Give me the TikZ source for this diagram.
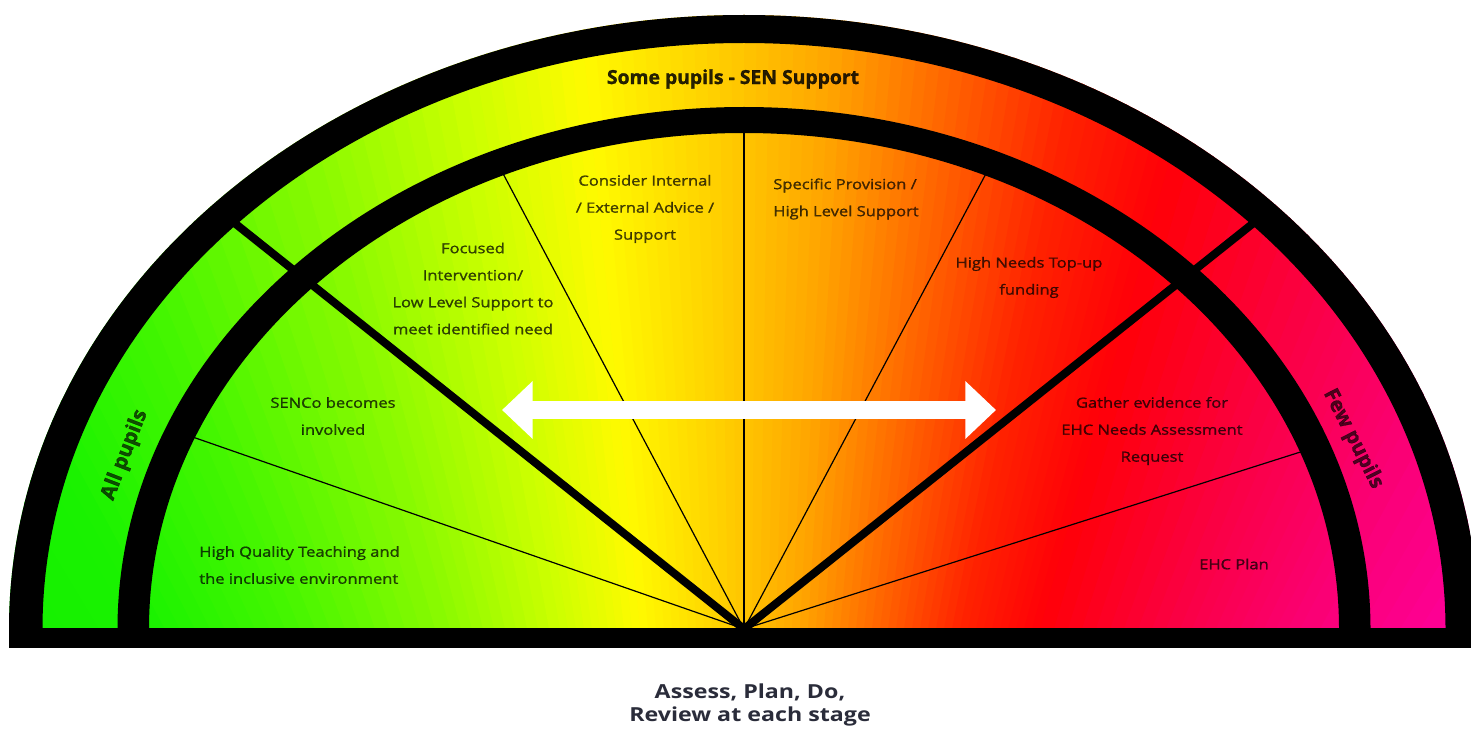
\documentclass[tikz,border=0pt]{standalone}
\usepackage{fontspec}
\setmainfont{Open Sans}
\newfontfamily\lblfont{Open Sans}[FakeBold=1.1]
\newfontfamily\heavyfont{Open Sans}[BoldFeatures={FakeBold=1.3}]
\usetikzlibrary{arrows.meta}
\definecolor{g0}{RGB}{20,240,0}
\definecolor{g1}{RGB}{25,242,0}
\definecolor{g2}{RGB}{70,246,0}
\definecolor{g3}{RGB}{140,250,0}
\definecolor{g4}{RGB}{205,255,0}
\definecolor{g5}{RGB}{255,250,0}
\definecolor{g6}{RGB}{255,210,0}
\definecolor{g7}{RGB}{255,165,0}
\definecolor{g8}{RGB}{255,100,0}
\definecolor{g9}{RGB}{255,35,0}
\definecolor{g10}{RGB}{255,0,8}
\definecolor{g11}{RGB}{250,0,70}
\definecolor{g12}{RGB}{250,0,115}
\definecolor{g13}{RGB}{255,0,165}
\definecolor{navytext}{RGB}{42,44,58}
\begin{document}
\begin{tikzpicture}[x=0.75pt,y=-0.75pt,
  thinray/.style={line width=0.9pt, black},
  thickray/.style={line width=6pt, black},
  lbl/.style={font=\lblfont\fontsize{10.5}{20.25}\selectfont, text=black, text opacity=0.7, align=center, xscale=1.18, inner sep=0pt},
  lbll/.style={lbl, align=left},
  band/.style={font=\heavyfont\bfseries\fontsize{15.5}{18}\selectfont, text=black, text opacity=0.68, inner sep=0pt},
  title/.style={font=\heavyfont\bfseries\fontsize{14.5}{18}\selectfont, text=black, text opacity=0.85, xscale=1.0, inner sep=0pt},
  foot/.style={font=\bfseries\fontsize{14.5}{17.25}\selectfont, text=navytext, align=center, xscale=1.2, inner sep=0pt}]
\useasboundingbox (0,0) rectangle (1471,731);
\fill[white] (0,0) rectangle (1471,731);
\coordinate (O) at (744,629);
\coordinate (F) at (744,1700);
% gradient fill of the half ellipse
\begin{scope}
  \clip (0,0) rectangle (1471,629);
  \clip (O) ellipse [x radius=735, y radius=614];
  \foreach \ua/\ub/\ca/\cb in {-20/150/g0/g1, 150/300/g1/g2, 300/450/g2/g3, 450/560/g3/g4, 560/640/g4/g5, 640/720/g5/g6, 720/800/g6/g7, 800/880/g7/g8, 880/960/g8/g9, 960/1040/g9/g10, 1040/1180/g10/g11, 1180/1300/g11/g12, 1300/1500/g12/g13}{
    \foreach \j in {0,...,9}{
      \pgfmathsetmacro\p{(\j+0.5)*10}
      \pgfmathsetmacro\xa{744+(\ua+(\ub-\ua)*\j/10-744)*1.5873}
      \pgfmathsetmacro\xb{744+(\ua+(\ub-\ua)*(\j+1)/10+2-744)*1.5873}
      \fill[fill={\cb!\p!\ca}] (F) -- (\xa,0) -- (\xb,0) -- cycle;
    }
  }
  % thin rays inside inner region
  \begin{scope}
    \clip (O) ellipse [x radius=612, y radius=510];
    \coordinate (t1) at (-330,255);
    \coordinate (t2) at (272,-263);
    \coordinate (t3) at (744,-100);
    \coordinate (t4) at (1218,-263);
    \coordinate (t5) at (1838,281);
    \foreach \t in {t1,t2,t3,t4,t5} \draw[thinray] (O) -- (\t);
  \end{scope}
  % thick rays through both bands
  \begin{scope}
    \clip (O) ellipse [x radius=718, y radius=600];
    \coordinate (k1) at (-260,-171);
    \coordinate (k2) at (1748,-171);
    \draw[thickray] (O) -- (k1);
    \draw[thickray] (O) -- (k2);
  \end{scope}
\end{scope}
% black rings
\begin{scope}
  \clip (0,0) rectangle (1471,629.5);
  \fill[black, even odd rule] (O) ellipse [x radius=735, y radius=614] (O) ellipse [x radius=701.5, y radius=586];
  \fill[black, even odd rule] (O) ellipse [x radius=626.5, y radius=522] (O) ellipse [x radius=595, y radius=496];
\end{scope}
% bottom bar
\fill[black] (9,628) rectangle (1471,648);
% double arrow
\coordinate (aL) at (502,410);
\coordinate (aR) at (996,410);
\draw[white, line width=13.5pt, {Triangle[length=23pt,width=42pt]}-{Triangle[length=23pt,width=42pt]}] (aL) -- (aR);
% labels
\node[title] (tSome) at (733,79) {Some pupils - SEN Support};
\node[band, rotate=69] (tAll) at (125,455) {All pupils};
\node[band, rotate=-63] (tFew) at (1353,439) {Few pupils};
\node[lbl] (tConsider) at (645,209) {Consider Internal\\/ External Advice /\\Support};
\node[lbll, anchor=west] (tSpecific) at (773,199) {Specific Provision /\\High Level Support};
\node[lbl] (tFocused) at (473,288.5) {Focused\\Intervention/\\Low Level Support to\\meet identified need};
\node[lbl] (tSENCo) at (333,416) {SENCo becomes\\involved};
\node[lbll, anchor=west] (tHQ) at (199,565) {High Quality Teaching and\\the inclusive environment};
\node[lbl] (tHigh) at (1029,277.5) {High Needs Top-up\\funding};
\node[lbl] (tGather) at (1152,431) {Gather evidence for\\EHC Needs Assessment\\Request};
\node[lbl] (tEHC) at (1234,564) {EHC Plan};
\node[foot] (tAssess) at (750,705) {Assess, Plan, Do,\\Review at each stage};
\end{tikzpicture}
\end{document}
